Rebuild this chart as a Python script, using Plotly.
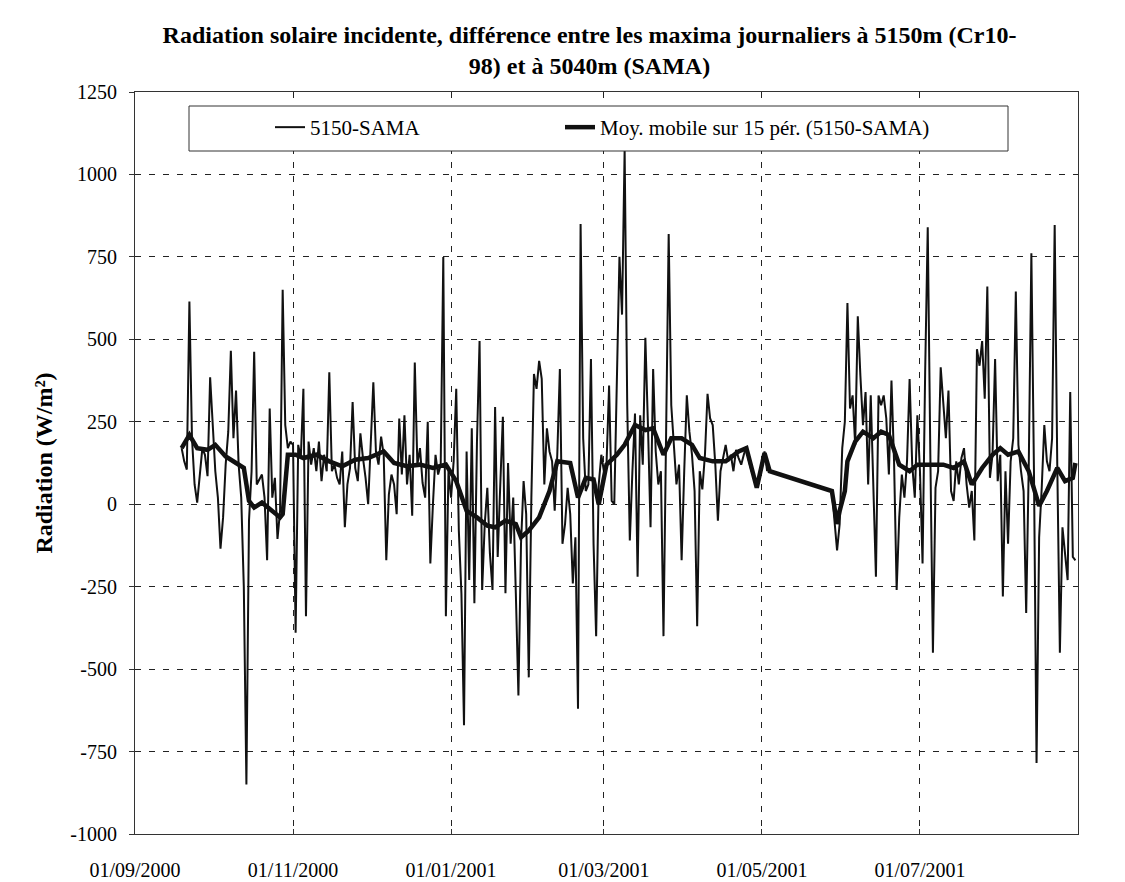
import pandas as pd
import plotly.graph_objects as go

# ---------------- data ----------------
seg1_start = "2000-09-19"
seg1_values = [
    170, 130, 105, 615, 200, 60, 5, 100, 170, 150,
    85, 385, 230, 100, 20, -135, -40, 120, 220, 465,
    200, 345, 120, 20, -250, -850, -50, 100, 462, 60,
    75, 90, 20, -170, 290, 20, 80, -105, -20, 650,
    240, 170, 190, 180, -390, 180, 140, 350, -340, 190,
    120, 170, 100, 190, 70, 150, 100, 400, 100, 120,
    80, 60, 160, -70, 60, 110, 310, 110, 70, 215,
    140, 80, 0, 210, 370, 160, 120, 205, 150, -170,
    30, 90, 60, -30, 260, 90, 270, 60, 150, -35,
    430, 120, 170, 65, 20, 250, -180, 0, 150, 90,
    120, 750, -340, 100, 20, 130, 350, -80, -270, -670,
    160, -230, 230, -300, 190, 495, -260, -60, 50, -150,
    -260, 295, -160, 60, 265, -270, 125, -120, 20, -270,
    -580, -120, 70, -30, -525, 20, 395, 350, 435, 380,
    60, 230, 160, 130, -20, 150, 410, -120, -60, 50,
    -30, -240, -100, -620, 850, 200, 40, 60, 440, -120,
    -400, 60, 150, 100, 120, 360, 10, 0, 380, 750,
    575, 1075, 300, -110, 100, 275, -220, 270, 120, 505,
    240, -70, 410, 160, 60, 100, -400, 180, 819, 300,
    160, 60, 120, -170, 100, 330, 220, 150, 40, -370,
    100, 45, 150, 335, 260, 240, 120, -50, 100, 140,
    180, 130, 150, 100, 165, 140, 120, 150, 175, 130,
    100, 80, 50, 90, 110, 160, 100,
]
seg2_start = "2001-05-28"
seg2_values = [
    40, -60, -140, -60, 170, 250, 610, 290, 330, 180,
    570, 390, 240, 340, 60, 330, 40, -220, 330, 300,
    330, 260, 90, 375, 130, -260, -40, 90, 20, 130,
    380, 120, 20, 270, 100, -180, 400, 840, 150, -450,
    50, 100, 415, 290, 200, 345, 40, 10, 130, 60,
    140, 170, 60, -10, 40, -110, 470, 420, 495, 320,
    660, 80, 150, 440, 70, 150, -280, 100, -120, 130,
    200, 645, 180, 100, 40, -330, 120, 761, 100, -785,
    -100, 50, 240, 130, 100, 200, 847, 120, -450, -70,
    -140, -230, 340, -160, -170,
]

ma_dates = [
    "2000-09-19", "2000-09-22", "2000-09-25", "2000-09-29", "2000-10-02",
    "2000-10-06", "2000-10-10", "2000-10-13", "2000-10-15", "2000-10-17",
    "2000-10-20", "2000-10-24", "2000-10-27", "2000-10-28", "2000-10-30",
    "2000-11-02", "2000-11-05", "2000-11-10", "2000-11-15", "2000-11-20",
    "2000-11-25", "2000-11-30", "2000-12-06", "2000-12-10", "2000-12-15",
    "2000-12-20", "2000-12-25", "2000-12-30", "2001-01-03", "2001-01-07",
    "2001-01-11", "2001-01-15", "2001-01-18", "2001-01-22", "2001-01-26",
    "2001-01-28", "2001-01-31", "2001-02-04", "2001-02-08", "2001-02-11",
    "2001-02-16", "2001-02-19", "2001-02-22", "2001-02-25", "2001-02-27",
    "2001-03-02", "2001-03-06", "2001-03-09", "2001-03-13", "2001-03-17",
    "2001-03-20", "2001-03-24", "2001-03-27", "2001-03-31", "2001-04-04",
    "2001-04-07", "2001-04-12", "2001-04-17", "2001-04-20", "2001-04-22",
    "2001-04-25", "2001-04-29", "2001-05-02", "2001-05-04",
    "2001-05-28", "2001-05-30", "2001-05-31", "2001-06-02", "2001-06-03",
    "2001-06-06", "2001-06-09", "2001-06-13", "2001-06-16", "2001-06-19",
    "2001-06-23", "2001-06-27", "2001-06-30", "2001-07-05", "2001-07-10",
    "2001-07-14", "2001-07-18", "2001-07-21", "2001-07-25", "2001-07-29",
    "2001-08-01", "2001-08-04", "2001-08-08", "2001-08-12", "2001-08-16",
    "2001-08-19", "2001-08-23", "2001-08-26", "2001-08-29", "2001-08-30",
]
ma_values = [
    170, 210, 170, 165, 180,
    145, 125, 110, 10, -10,
    5, -20, -40, -30, 150,
    150, 140, 150, 130, 115,
    135, 140, 160, 125, 115,
    120, 110, 120, 70, -20,
    -40, -65, -70, -50, -60,
    -100, -80, -40, 40, 130,
    125, 20, 80, 75, 0,
    120, 150, 180, 240, 225,
    230, 150, 200, 200, 180,
    140, 130, 130, 150, 160,
    170, 50, 155, 100,
    40, -60, -20, 40, 130,
    190, 220, 200, 220, 210,
    120, 100, 120, 120, 120,
    110, 130, 60, 110, 150,
    170, 150, 160, 100, -5,
    40, 110, 70, 80, 125,
]

tick_dates = ["2000-09-01", "2000-11-01", "2001-01-01", "2001-03-01", "2001-05-01", "2001-07-01"]
tick_labels = ["01/09/2000", "01/11/2000", "01/01/2001", "01/03/2001", "01/05/2001", "01/07/2001"]
y_ticks = [-1000, -750, -500, -250, 0, 250, 500, 750, 1000, 1250]
y_tick_labels = ["-1000", "-750", "-500", "-250", "0", "250", "500", "750", "1000", "1250"]

# ---------------- build series ----------------
d1 = list(pd.date_range(seg1_start, periods=len(seg1_values), freq="D"))
d2 = list(pd.date_range(seg2_start, periods=len(seg2_values), freq="D"))
x_thin = d1 + [d1[-1] + pd.Timedelta(days=1)] + d2
y_thin = seg1_values + [None] + seg2_values

FONT = "Liberation Serif, Times New Roman, serif"

# plot area in pixels
L, R, T, B = 135, 1078, 92, 834
W, H = 1125, 882
PW, PH = R - L, B - T


def px_x(px):
    return (px - L) / PW


def px_y(py):
    return (B - py) / PH


fig = go.Figure()
fig.add_trace(go.Scatter(
    x=x_thin, y=y_thin, mode="lines", name="5150-SAMA",
    line=dict(color="#111111", width=2), connectgaps=False,
    legend="legend",
))
fig.add_trace(go.Scatter(
    x=pd.to_datetime(ma_dates), y=ma_values, mode="lines",
    name="Moy. mobile sur 15 pér. (5150-SAMA)",
    line=dict(color="#111111", width=4.5),
    legend="legend2",
))

legend_common = dict(
    orientation="h", xanchor="left", yanchor="top",
    bgcolor="rgba(0,0,0,0)", borderwidth=0,
    font=dict(family=FONT, size=21, color="black"),
)

fig.update_layout(
    width=W, height=H,
    margin=dict(l=L, r=W - R, t=T, b=H - B, autoexpand=False),
    paper_bgcolor="white", plot_bgcolor="white",
    font=dict(family=FONT, size=20, color="black"),
    title=dict(
        text="Radiation solaire incidente, différence entre les maxima journaliers à 5150m (Cr10-<br>98) et à 5040m (SAMA)",
        x=0.524, xanchor="center", xref="container",
        y=1 - 43 / H, yanchor="top", yref="container",
        font=dict(family=FONT, size=24, color="black", weight="bold"),
    ),
    showlegend=True,
    legend=dict(x=px_x(270), y=px_y(107), **legend_common),
    legend2=dict(x=px_x(560), y=px_y(107), **legend_common),
    shapes=[dict(
        type="rect", xref="paper", yref="paper",
        x0=px_x(189), x1=px_x(1008),
        y0=px_y(151), y1=px_y(106),
        line=dict(color="#333333", width=1), fillcolor="white", layer="above",
    )],
)

fig.update_xaxes(
    type="date",
    range=["2000-09-01", "2001-08-31"],
    tickvals=pd.to_datetime(tick_dates), ticktext=tick_labels,
    showgrid=True, gridcolor="#222222", gridwidth=1, griddash="6px,8px",
    showline=True, linecolor="#333333", linewidth=1, mirror=True,
    ticks="inside", ticklen=5, tickcolor="#333333",
    ticklabelstandoff=18, automargin=False,
    tickfont=dict(family=FONT, size=20, color="black"),
    zeroline=False,
)
fig.update_yaxes(
    range=[-1000, 1250],
    tickvals=y_ticks, ticktext=y_tick_labels,
    showgrid=True, gridcolor="#222222", gridwidth=1, griddash="6px,8px",
    showline=True, linecolor="#333333", linewidth=1, mirror=True,
    ticks="outside", ticklen=5, tickcolor="#333333",
    ticklabelstandoff=8, automargin=False,
    tickfont=dict(family=FONT, size=20, color="black"),
    zeroline=False,
    title=dict(text="Radiation (W/m²)", standoff=10,
               font=dict(family=FONT, size=24, color="black", weight="bold")),
)

fig.write_html(
    "out.html",
    config={"displayModeBar": False},
    post_script="document.body.style.margin='0px';document.body.style.overflow='hidden';",
)
